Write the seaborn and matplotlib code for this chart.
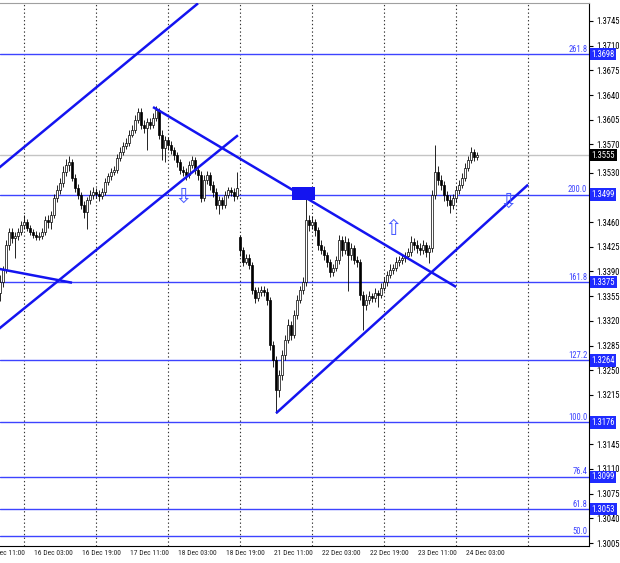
"""
hourly candles with fibo levels and trend lines, MT4 look
"""
import numpy as np
import pandas as pd
import seaborn as sns
import matplotlib
matplotlib.use("Agg")
import matplotlib.pyplot as plt
import matplotlib.transforms as mtransforms
from matplotlib import font_manager

# bar 0 = 16 Dec 00:00, one bar per hour (weekend skipped)
closes = [
    1.3375, 1.3392, 1.3428, 1.3446, 1.3437, 1.3440, 1.3446, 1.3456,
    1.3460, 1.3452, 1.3446, 1.3442, 1.3439, 1.3440, 1.3446, 1.3463,
    1.3460, 1.3470, 1.3494, 1.3505, 1.3515, 1.3531, 1.3541, 1.3545,
    1.3523, 1.3508, 1.3498, 1.3484, 1.3474, 1.3491, 1.3498, 1.3503,
    1.3500, 1.3497, 1.3503, 1.3517, 1.3525, 1.3531, 1.3534, 1.3551,
    1.3560, 1.3568, 1.3572, 1.3584, 1.3591, 1.3605, 1.3616, 1.3598,
    1.3593, 1.3602, 1.3598, 1.3608, 1.3619, 1.3584, 1.3565, 1.3576,
    1.3569, 1.3562, 1.3555, 1.3545, 1.3534, 1.3531, 1.3527, 1.3541,
    1.3548, 1.3534, 1.3527, 1.3494, 1.3520, 1.3527, 1.3513, 1.3503,
    1.3484, 1.3491, 1.3484, 1.3498, 1.3505, 1.3503, 1.3497, 1.3508,
    1.3420, 1.3404, 1.3409, 1.3399, 1.3364, 1.3352, 1.3361, 1.3364,
    1.3361, 1.3350, 1.3286, 1.3264, 1.3222, 1.3243, 1.3271, 1.3293,
    1.3314, 1.3300, 1.3328, 1.3350, 1.3364, 1.3375, 1.3463, 1.3456,
    1.3460, 1.3449, 1.3428, 1.3420, 1.3413, 1.3404, 1.3389, 1.3395,
    1.3406, 1.3435, 1.3420, 1.3432, 1.3413, 1.3423, 1.3406, 1.3404,
    1.3357, 1.3342, 1.3350, 1.3355, 1.3352, 1.3360, 1.3357, 1.3367,
    1.3375, 1.3385, 1.3392, 1.3395, 1.3404, 1.3406, 1.3409, 1.3412,
    1.3417, 1.3432, 1.3428, 1.3423, 1.3420, 1.3428, 1.3417, 1.3423,
    1.3498, 1.3531, 1.3520, 1.3513, 1.3498, 1.3491, 1.3484, 1.3494,
    1.3505, 1.3513, 1.3523, 1.3537, 1.3548, 1.3560, 1.3552, 1.3555,
]
highs = [
    1.3385, 1.3398, 1.3435, 1.3452, 1.3452, 1.3446, 1.3452, 1.3462,
    1.3470, 1.3465, 1.3456, 1.3450, 1.3447, 1.3446, 1.3452, 1.3468,
    1.3470, 1.3476, 1.3500, 1.3512, 1.3522, 1.3540, 1.3550, 1.3554,
    1.3550, 1.3528, 1.3514, 1.3503, 1.3490, 1.3496, 1.3506, 1.3510,
    1.3508, 1.3505, 1.3508, 1.3522, 1.3530, 1.3537, 1.3540, 1.3556,
    1.3566, 1.3574, 1.3579, 1.3590, 1.3598, 1.3612, 1.3622, 1.3621,
    1.3604, 1.3608, 1.3607, 1.3614, 1.3624, 1.3622, 1.3590, 1.3582,
    1.3580, 1.3575, 1.3567, 1.3560, 1.3550, 1.3540, 1.3537, 1.3547,
    1.3554, 1.3552, 1.3540, 1.3532, 1.3527, 1.3533, 1.3531, 1.3518,
    1.3508, 1.3497, 1.3496, 1.3504, 1.3510, 1.3510, 1.3508, 1.3531,
    1.3442, 1.3424, 1.3415, 1.3414, 1.3403, 1.3368, 1.3368, 1.3370,
    1.3370, 1.3366, 1.3354, 1.3292, 1.3270, 1.3250, 1.3278, 1.3300,
    1.3322, 1.3320, 1.3335, 1.3356, 1.3370, 1.3382, 1.3504, 1.3470,
    1.3468, 1.3465, 1.3453, 1.3434, 1.3426, 1.3418, 1.3408, 1.3400,
    1.3412, 1.3442, 1.3440, 1.3440, 1.3437, 1.3430, 1.3428, 1.3412,
    1.3408, 1.3362, 1.3358, 1.3362, 1.3360, 1.3366, 1.3364, 1.3374,
    1.3382, 1.3390, 1.3400, 1.3401, 1.3410, 1.3412, 1.3415, 1.3418,
    1.3423, 1.3440, 1.3438, 1.3434, 1.3430, 1.3434, 1.3432, 1.3428,
    1.3505, 1.3569, 1.3540, 1.3526, 1.3518, 1.3504, 1.3498, 1.3500,
    1.3511, 1.3519, 1.3529, 1.3543, 1.3554, 1.3566, 1.3564, 1.3560,
]
lows = [
    1.3348, 1.3368, 1.3388, 1.3420, 1.3430, 1.3409, 1.3434, 1.3441,
    1.3450, 1.3447, 1.3441, 1.3437, 1.3434, 1.3434, 1.3436, 1.3442,
    1.3452, 1.3450, 1.3466, 1.3488, 1.3500, 1.3510, 1.3525, 1.3533,
    1.3518, 1.3503, 1.3492, 1.3478, 1.3466, 1.3450, 1.3486, 1.3493,
    1.3494, 1.3490, 1.3492, 1.3499, 1.3512, 1.3520, 1.3526, 1.3530,
    1.3546, 1.3555, 1.3563, 1.3568, 1.3580, 1.3586, 1.3600, 1.3592,
    1.3586, 1.3562, 1.3592, 1.3594, 1.3603, 1.3578, 1.3548, 1.3545,
    1.3562, 1.3556, 1.3548, 1.3538, 1.3528, 1.3525, 1.3520, 1.3522,
    1.3536, 1.3528, 1.3520, 1.3489, 1.3490, 1.3514, 1.3506, 1.3496,
    1.3478, 1.3472, 1.3478, 1.3480, 1.3494, 1.3497, 1.3490, 1.3492,
    1.3412, 1.3398, 1.3400, 1.3393, 1.3358, 1.3345, 1.3348, 1.3355,
    1.3355, 1.3342, 1.3278, 1.3255, 1.3189, 1.3212, 1.3236, 1.3265,
    1.3288, 1.3293, 1.3295, 1.3322, 1.3345, 1.3358, 1.3370, 1.3448,
    1.3450, 1.3440, 1.3420, 1.3414, 1.3406, 1.3396, 1.3382, 1.3384,
    1.3390, 1.3400, 1.3412, 1.3415, 1.3362, 1.3406, 1.3400, 1.3396,
    1.3350, 1.3307, 1.3335, 1.3344, 1.3346, 1.3346, 1.3340, 1.3352,
    1.3362, 1.3370, 1.3380, 1.3387, 1.3390, 1.3398, 1.3401, 1.3404,
    1.3407, 1.3412, 1.3420, 1.3416, 1.3413, 1.3414, 1.3410, 1.3402,
    1.3418, 1.3493, 1.3512, 1.3505, 1.3490, 1.3483, 1.3473, 1.3478,
    1.3488, 1.3500, 1.3508, 1.3518, 1.3532, 1.3543, 1.3546, 1.3548,
]
first_bar = -8
first_open = 1.3360
gap_bar = 72          # Monday 21 Dec opens with a gap
gap_open = 1.3439

fib_names = ["261.8", "200.0", "161.8", "127.2", "100.0", "76.4", "61.8", "50.0"]
fib_prices = [1.3698, 1.3499, 1.3375, 1.3264, 1.3176, 1.3099, 1.3053, 1.3015]
fib_boxed = [True, True, True, True, True, True, True, False]
bid_price = 1.3555

price_ticks = [1.3745, 1.3710, 1.3675, 1.3640, 1.3605, 1.3570, 1.3530, 1.3460,
               1.3425, 1.3390, 1.3355, 1.3320, 1.3285, 1.3250, 1.3215, 1.3145,
               1.3110, 1.3075, 1.3040, 1.3005]
time_labels = ["15 Dec 11:00", "16 Dec 03:00", "16 Dec 19:00", "17 Dec 11:00",
               "18 Dec 03:00", "18 Dec 19:00", "21 Dec 11:00", "22 Dec 03:00",
               "22 Dec 19:00", "23 Dec 11:00", "24 Dec 03:00"]
time_bars = [-13, 3, 19, 35, 51, 67, 83, 99, 115, 131, 147]
day_bars = [0, 24, 48, 72, 96, 120, 144, 168]

# trend lines: (bar, price) -> (bar, price)
trend_lines = [
    ((-10, 1.3531), (58, 1.3770)),
    ((-10, 1.3303), (71.3, 1.3583)),
    ((-10, 1.3395), (16, 1.3374)),
    ((43, 1.3623), (144, 1.3368)),
    ((84, 1.3189), (168, 1.3513)),
]
zone_bars = (89.3, 97.0)
zone_prices = (1.3491, 1.3510)
arrows = [("\u21e9", 53, 1.3496), ("\u21e7", 123, 1.3450), ("\u21e9", 161.3, 1.3488)]

# -------------
sns.set_style("white")
installed = {f.name for f in font_manager.fontManager.ttflist}
narrow = [f for f in ["Liberation Sans Narrow", "DejaVu Sans Condensed", "Roboto Condensed"]
          if f in installed]
if narrow:
    label_font, tick_size, time_size = narrow[0], 6.2, 5.4
else:
    label_font, tick_size, time_size = "Liberation Sans", 5.6, 5.0
plt.rcParams['font.family'] = [label_font, 'DejaVu Sans']
print("font:", label_font)

bars = np.arange(first_bar, first_bar + len(closes))
opens = [first_open] + closes[:-1]
opens[gap_bar - first_bar] = gap_open
df = pd.DataFrame({"bar": bars, "open": opens, "high": highs,
                   "low": lows, "close": closes})
df["up"] = df["close"] >= df["open"]
df["bottom"] = df[["open", "close"]].min(axis=1)
df["body"] = (df["close"] - df["open"]).abs().clip(lower=0.00004)

W, H = 620, 563
fig = plt.figure(figsize=(W / 100, H / 100), dpi=100)
ax = fig.add_axes([0, 17 / H, 589 / W, 543 / H])

blue_fib = "#3d43ff"
blue_line = "#1414f0"

for b in day_bars:
    ax.axvline(b, color="#333333", lw=0.8, ls=(0, (1.2, 2.2)), zorder=1)

bt = mtransforms.blended_transform_factory(ax.transAxes, ax.transData)
for name, p in zip(fib_names, fib_prices):
    ax.axhline(p, color=blue_fib, lw=1, zorder=2)
    ax.text(0.997, p + 0.00005, name, transform=bt,
            ha="right", va="bottom", color=blue_fib, fontsize=tick_size)
ax.axhline(bid_price, color="#c4c4c4", lw=1, zorder=2)

ax.vlines(df["bar"], df["low"], df["high"], color="black", lw=0.6, zorder=3)
ax.bar(df["bar"], df["body"], bottom=df["bottom"], width=0.66,
       color=np.where(df["up"], "white", "black"), edgecolor="black", lw=0.5, zorder=4)

for (x0, y0), (x1, y1) in trend_lines:
    ax.plot([x0, x1], [y0, y1], color=blue_line, lw=1.8, zorder=5, solid_capstyle="butt")
ax.fill_between(zone_bars, zone_prices[0], zone_prices[1], color=blue_line, lw=0, zorder=6)

for ch, b, p in arrows:
    ax.text(b, p, ch, ha="center", va="center", fontsize=15, color="#4a5cff",
            family="DejaVu Sans", zorder=6)

ax.yaxis.tick_right()
ax.set_yticks(price_ticks)
ax.set_yticklabels([f"{t:.4f}" for t in price_ticks])
ax.tick_params(axis="y", direction="out", length=3, width=0.8, pad=2,
               labelsize=tick_size, colors="black")
ax.set_xticks(time_bars[1:])
ax.set_xticklabels([])
ax.tick_params(axis="x", direction="out", length=3, width=0.8, pad=1)
xt = mtransforms.blended_transform_factory(ax.transData, ax.transAxes)
for b, lab in zip(time_bars, time_labels):
    ax.text(b + 0.3, -0.008, lab, transform=xt, ha="left", va="top",
            fontsize=time_size, clip_on=False)

for p, boxed in zip(fib_prices, fib_boxed):
    if boxed:
        ax.text(1.004, p, f"{p:.4f}", transform=bt, ha="left", va="center", color="white",
                fontsize=tick_size, zorder=10, clip_on=False,
                bbox=dict(boxstyle="square,pad=0.2", fc="#1f2bff", ec="none"))
ax.text(1.004, bid_price, f"{bid_price:.4f}", transform=bt, ha="left", va="center",
        color="white", fontsize=tick_size, zorder=10, clip_on=False,
        bbox=dict(boxstyle="square,pad=0.2", fc="black", ec="none"))

# limits last, set_xticks would widen them otherwise
ax.set_xlim(-8, 188.3)
ax.set_ylim(1.30008, 1.37705)

ax.spines["left"].set_visible(False)
ax.spines["top"].set_color("#a0a0a0")
ax.spines["right"].set_color("black")
ax.spines["bottom"].set_color("black")
for s in ax.spines.values():
    s.set_linewidth(0.8)

plt.savefig("out.png", dpi=100)
print("saved out.png")
